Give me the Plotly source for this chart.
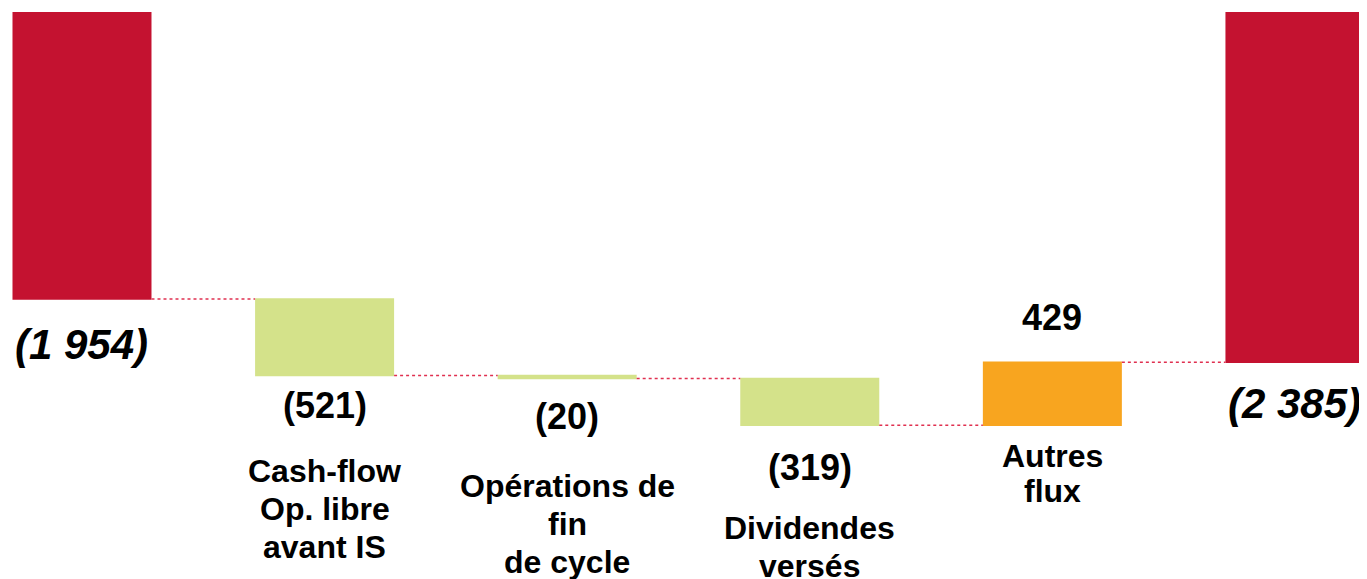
import plotly.graph_objects as go

# ---- data ----
steps = ["Dette nette début", "Cash-flow Op. libre avant IS", "Opérations de fin de cycle",
         "Dividendes versés", "Autres flux", "Dette nette fin"]
shown_labels = [[], ["Cash-flow", "Op. libre", "avant IS"], ["Opérations de", "fin", "de cycle"],
                ["Dividendes", "versés"], ["Autres", "flux"], []]
values = [-1954, -521, -20, -319, 429, -2385]
measures = ["absolute", "relative", "relative", "relative", "relative", "total"]
value_labels = ["(1 954)", "(521)", "(20)", "(319)", "429", "(2 385)"]

# ---- styles ----
RED = "#C41230"
GREEN = "#D4E28A"
ORANGE = "#F8A51F"
FONT = "Liberation Sans, Arial, sans-serif"

x = list(range(len(steps)))

fig = go.Figure(go.Waterfall(
    x=x, y=values, measure=measures,
    orientation="v",
    width=0.573,
    textinfo="none",
    hoverinfo="skip",
    decreasing=dict(marker=dict(color=GREEN, line=dict(width=0))),
    increasing=dict(marker=dict(color=ORANGE, line=dict(width=0))),
    totals=dict(marker=dict(color=RED, line=dict(width=0))),
    connector=dict(mode="between", line=dict(color="#E03050", width=1.5, dash="dot")),
))

# compute bar extents from data
starts, ends = [], []
cum = 0
for v, m in zip(values, measures):
    if m == "absolute":
        s, e = 0, v
    elif m == "total":
        s, e = 0, cum
    else:
        s, e = cum, cum + v
    cum = e
    starts.append(s)
    ends.append(e)

value_shift = [-45, -30, -38, -42, 45, -41]
cat_shift = [0, -133, -146, -121.5, -48, 0]
cat_pitch = [38, 38, 38, 38, 35, 38]

annotations = []
for i in x:
    lo = min(starts[i], ends[i])
    hi = max(starts[i], ends[i])
    is_total = measures[i] in ("absolute", "total")
    if values[i] > 0 and not is_total:
        yref_val = hi
    else:
        yref_val = lo
    annotations.append(dict(
        x=i, y=yref_val, xref="x", yref="y", text=value_labels[i], showarrow=False,
        yanchor="middle", xanchor="center", yshift=value_shift[i],
        font=dict(family=FONT, size=42 if is_total else 36, color="black",
                  weight="bold", style="italic" if is_total else "normal"),
    ))
    lines = shown_labels[i]
    n = len(lines)
    for j, line in enumerate(lines):
        annotations.append(dict(
            x=i, y=lo, xref="x", yref="y", text=line, showarrow=False,
            yanchor="middle", xanchor="center",
            yshift=cat_shift[i] - (j - (n - 1) / 2) * cat_pitch[i],
            font=dict(family=FONT, size=32, color="black", weight="bold"),
        ))

fig.update_layout(
    width=1359, height=571,
    margin=dict(l=0, r=0, t=4, b=0),
    paper_bgcolor="white", plot_bgcolor="white",
    showlegend=False,
    xaxis=dict(range=[-0.305, 5.297], showgrid=False, zeroline=False,
               showticklabels=False, showline=False, fixedrange=True),
    yaxis=dict(range=[-3860, 0], showgrid=False, zeroline=False,
               showticklabels=False, showline=False, fixedrange=True),
    annotations=annotations,
)

fig.write_html("out.html")
